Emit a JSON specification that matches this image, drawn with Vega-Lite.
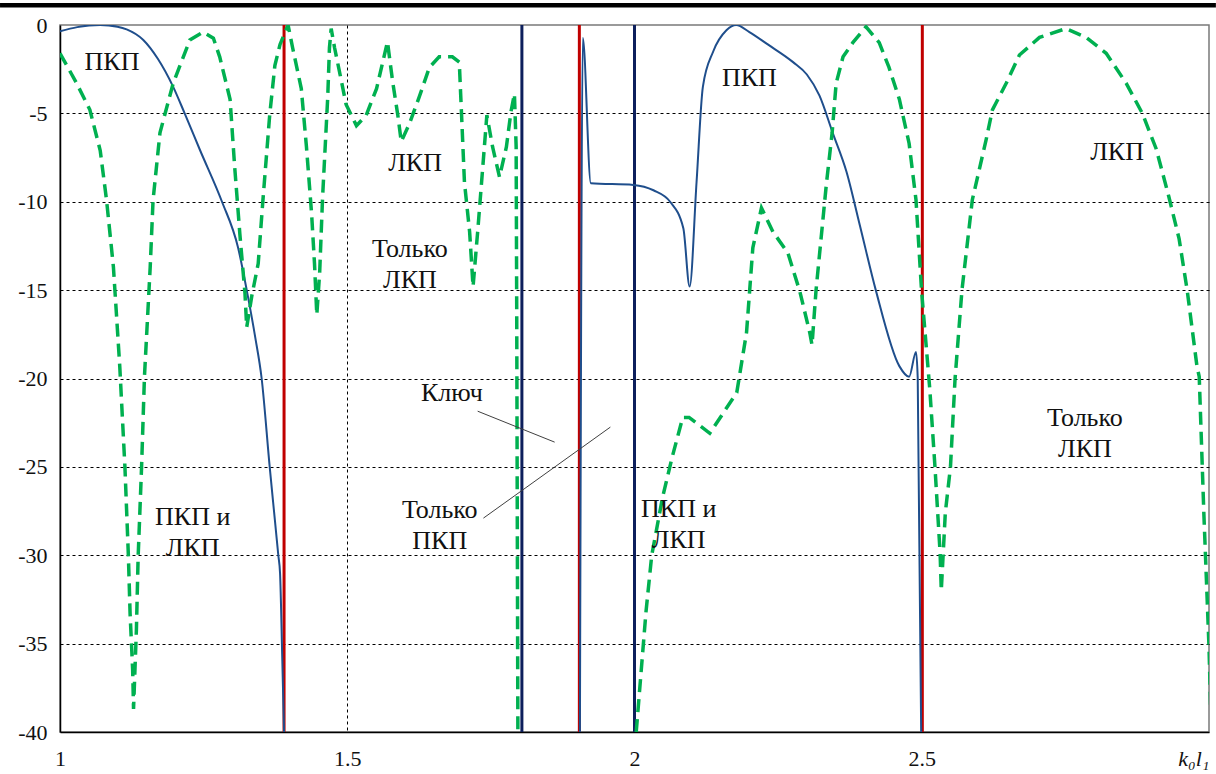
{
  "$schema": "https://vega.github.io/schema/vega-lite/v6.json",
  "autosize": "none",
  "width": 1149,
  "height": 707,
  "padding": {"left": 60, "top": 25, "right": 7, "bottom": 42},
  "background": "white",
  "config": {
    "view": {"stroke": "#7a7a7a", "strokeWidth": 1.5},
    "font": "Liberation Serif",
    "axis": {"labelFont": "Liberation Serif"},
    "text": {"font": "Liberation Serif"}
  },
  "datasets": {
    "vlines": [
      {"x": 1.39, "kind": "red"},
      {"x": 1.804, "kind": "navy"},
      {"x": 1.904, "kind": "red"},
      {"x": 2.0, "kind": "navy"},
      {"x": 2.501, "kind": "red"}
    ],
    "blue": [
      {"seg": 1, "x": 1.0, "y": -0.35},
      {"seg": 1, "x": 1.03, "y": -0.12},
      {"seg": 1, "x": 1.07, "y": 0},
      {"seg": 1, "x": 1.1, "y": -0.1},
      {"seg": 1, "x": 1.116, "y": -0.25},
      {"seg": 1, "x": 1.145, "y": -0.85},
      {"seg": 1, "x": 1.17, "y": -1.9},
      {"seg": 1, "x": 1.197, "y": -3.5},
      {"seg": 1, "x": 1.217, "y": -5},
      {"seg": 1, "x": 1.244, "y": -7.1},
      {"seg": 1, "x": 1.282, "y": -10},
      {"seg": 1, "x": 1.31, "y": -12.6},
      {"seg": 1, "x": 1.325, "y": -15},
      {"seg": 1, "x": 1.34, "y": -17.7},
      {"seg": 1, "x": 1.351, "y": -20},
      {"seg": 1, "x": 1.365, "y": -25},
      {"seg": 1, "x": 1.374, "y": -28},
      {"seg": 1, "x": 1.38, "y": -30},
      {"seg": 1, "x": 1.383, "y": -31},
      {"seg": 1, "x": 1.387, "y": -36},
      {"seg": 1, "x": 1.39, "y": -40},
      {"seg": 2, "x": 1.905, "y": -40},
      {"seg": 2, "x": 1.91, "y": -0.73},
      {"seg": 2, "x": 1.924, "y": -8.95},
      {"seg": 2, "x": 1.998, "y": -9.05},
      {"seg": 2, "x": 2.033, "y": -9.35},
      {"seg": 2, "x": 2.062, "y": -10},
      {"seg": 2, "x": 2.085, "y": -11.5},
      {"seg": 2, "x": 2.096, "y": -14.8},
      {"seg": 2, "x": 2.108, "y": -8.9},
      {"seg": 2, "x": 2.119, "y": -3.5},
      {"seg": 2, "x": 2.137, "y": -1.5},
      {"seg": 2, "x": 2.16, "y": -0.3},
      {"seg": 2, "x": 2.177, "y": 0},
      {"seg": 2, "x": 2.2, "y": -0.4},
      {"seg": 2, "x": 2.232, "y": -1.1},
      {"seg": 2, "x": 2.276, "y": -2.1},
      {"seg": 2, "x": 2.3, "y": -2.8},
      {"seg": 2, "x": 2.322, "y": -4},
      {"seg": 2, "x": 2.345, "y": -6.1},
      {"seg": 2, "x": 2.369, "y": -8.3},
      {"seg": 2, "x": 2.392, "y": -11.3},
      {"seg": 2, "x": 2.42, "y": -15},
      {"seg": 2, "x": 2.461, "y": -19.3},
      {"seg": 2, "x": 2.478, "y": -19.9},
      {"seg": 2, "x": 2.49, "y": -18.5},
      {"seg": 2, "x": 2.493, "y": -20},
      {"seg": 2, "x": 2.499, "y": -40}
    ],
    "green": [
      {"seg": 1, "x": 1.0, "y": -1.6},
      {"seg": 1, "x": 1.029, "y": -3.3},
      {"seg": 1, "x": 1.052, "y": -4.8},
      {"seg": 1, "x": 1.07, "y": -7.1},
      {"seg": 1, "x": 1.081, "y": -9.9},
      {"seg": 1, "x": 1.093, "y": -13.7},
      {"seg": 1, "x": 1.104, "y": -19.3},
      {"seg": 1, "x": 1.113, "y": -25},
      {"seg": 1, "x": 1.119, "y": -30},
      {"seg": 1, "x": 1.122, "y": -33.3},
      {"seg": 1, "x": 1.1265, "y": -36.5},
      {"seg": 1, "x": 1.128, "y": -38.7},
      {"seg": 1, "x": 1.133, "y": -34.2},
      {"seg": 1, "x": 1.136, "y": -30.1},
      {"seg": 1, "x": 1.142, "y": -25},
      {"seg": 1, "x": 1.147, "y": -19.9},
      {"seg": 1, "x": 1.157, "y": -13.7},
      {"seg": 1, "x": 1.162, "y": -9.9},
      {"seg": 1, "x": 1.174, "y": -6.1},
      {"seg": 1, "x": 1.197, "y": -3.3},
      {"seg": 1, "x": 1.226, "y": -0.85},
      {"seg": 1, "x": 1.249, "y": -0.4},
      {"seg": 1, "x": 1.267, "y": -0.75},
      {"seg": 1, "x": 1.278, "y": -1.8},
      {"seg": 1, "x": 1.296, "y": -4.2},
      {"seg": 1, "x": 1.304, "y": -8},
      {"seg": 1, "x": 1.313, "y": -11.8},
      {"seg": 1, "x": 1.322, "y": -15.2},
      {"seg": 1, "x": 1.325, "y": -17.1},
      {"seg": 1, "x": 1.334, "y": -15.3},
      {"seg": 1, "x": 1.345, "y": -13.5},
      {"seg": 1, "x": 1.353, "y": -10},
      {"seg": 1, "x": 1.365, "y": -5.1},
      {"seg": 1, "x": 1.374, "y": -2.3},
      {"seg": 1, "x": 1.383, "y": -1.1},
      {"seg": 1, "x": 1.397, "y": 0},
      {"seg": 1, "x": 1.405, "y": -1.3},
      {"seg": 1, "x": 1.42, "y": -3.6},
      {"seg": 1, "x": 1.429, "y": -6.9},
      {"seg": 1, "x": 1.438, "y": -10.7},
      {"seg": 1, "x": 1.443, "y": -13.5},
      {"seg": 1, "x": 1.447, "y": -16.4},
      {"seg": 1, "x": 1.452, "y": -14},
      {"seg": 1, "x": 1.457, "y": -9.8},
      {"seg": 1, "x": 1.466, "y": -4.1},
      {"seg": 1, "x": 1.469, "y": -1.3},
      {"seg": 1, "x": 1.472, "y": -0.2},
      {"seg": 1, "x": 1.478, "y": -1.3},
      {"seg": 1, "x": 1.49, "y": -3.2},
      {"seg": 1, "x": 1.498, "y": -4.5},
      {"seg": 1, "x": 1.516, "y": -5.7},
      {"seg": 1, "x": 1.533, "y": -5.1},
      {"seg": 1, "x": 1.551, "y": -3.6},
      {"seg": 1, "x": 1.57, "y": -0.95},
      {"seg": 1, "x": 1.579, "y": -3.2},
      {"seg": 1, "x": 1.588, "y": -5.1},
      {"seg": 1, "x": 1.594, "y": -6.6},
      {"seg": 1, "x": 1.608, "y": -5.6},
      {"seg": 1, "x": 1.625, "y": -4.1},
      {"seg": 1, "x": 1.643, "y": -2.4},
      {"seg": 1, "x": 1.66, "y": -1.8},
      {"seg": 1, "x": 1.683, "y": -1.8},
      {"seg": 1, "x": 1.695, "y": -2.1},
      {"seg": 1, "x": 1.699, "y": -5.1},
      {"seg": 1, "x": 1.704, "y": -8.9},
      {"seg": 1, "x": 1.713, "y": -11.7},
      {"seg": 1, "x": 1.719, "y": -14.8},
      {"seg": 1, "x": 1.727, "y": -11.7},
      {"seg": 1, "x": 1.736, "y": -8},
      {"seg": 1, "x": 1.743, "y": -5.1},
      {"seg": 1, "x": 1.753, "y": -6.9},
      {"seg": 1, "x": 1.765, "y": -8.6},
      {"seg": 1, "x": 1.777, "y": -6.9},
      {"seg": 1, "x": 1.785, "y": -4.9},
      {"seg": 1, "x": 1.791, "y": -3.9},
      {"seg": 1, "x": 1.794, "y": -6.9},
      {"seg": 1, "x": 1.795, "y": -16.4},
      {"seg": 1, "x": 1.797, "y": -40},
      {"seg": 2, "x": 2.003, "y": -40},
      {"seg": 2, "x": 2.02, "y": -33.2},
      {"seg": 2, "x": 2.03, "y": -30},
      {"seg": 2, "x": 2.049, "y": -26.7},
      {"seg": 2, "x": 2.066, "y": -24.4},
      {"seg": 2, "x": 2.084, "y": -22.2},
      {"seg": 2, "x": 2.095, "y": -22.2},
      {"seg": 2, "x": 2.131, "y": -23.1},
      {"seg": 2, "x": 2.178, "y": -20.8},
      {"seg": 2, "x": 2.195, "y": -17.4},
      {"seg": 2, "x": 2.206, "y": -12.6},
      {"seg": 2, "x": 2.221, "y": -10.35},
      {"seg": 2, "x": 2.241, "y": -11.7},
      {"seg": 2, "x": 2.267, "y": -12.9},
      {"seg": 2, "x": 2.288, "y": -15.1},
      {"seg": 2, "x": 2.305, "y": -17.4},
      {"seg": 2, "x": 2.309, "y": -18.1},
      {"seg": 2, "x": 2.316, "y": -15},
      {"seg": 2, "x": 2.334, "y": -9},
      {"seg": 2, "x": 2.344, "y": -6.1},
      {"seg": 2, "x": 2.351, "y": -3.3},
      {"seg": 2, "x": 2.363, "y": -1.8},
      {"seg": 2, "x": 2.38, "y": -1.0},
      {"seg": 2, "x": 2.403, "y": -0.1},
      {"seg": 2, "x": 2.426, "y": -1.0},
      {"seg": 2, "x": 2.443, "y": -2.4},
      {"seg": 2, "x": 2.461, "y": -4.2},
      {"seg": 2, "x": 2.478, "y": -6.7},
      {"seg": 2, "x": 2.49, "y": -9.9},
      {"seg": 2, "x": 2.4996, "y": -15},
      {"seg": 2, "x": 2.514, "y": -20.6},
      {"seg": 2, "x": 2.523, "y": -25},
      {"seg": 2, "x": 2.532, "y": -29.9},
      {"seg": 2, "x": 2.534, "y": -32},
      {"seg": 2, "x": 2.541, "y": -27.6},
      {"seg": 2, "x": 2.55, "y": -25},
      {"seg": 2, "x": 2.558, "y": -20},
      {"seg": 2, "x": 2.57, "y": -15},
      {"seg": 2, "x": 2.588, "y": -9.9},
      {"seg": 2, "x": 2.612, "y": -6.5},
      {"seg": 2, "x": 2.623, "y": -4.8},
      {"seg": 2, "x": 2.647, "y": -3.3},
      {"seg": 2, "x": 2.67, "y": -1.7},
      {"seg": 2, "x": 2.705, "y": -0.7},
      {"seg": 2, "x": 2.751, "y": -0.2},
      {"seg": 2, "x": 2.786, "y": -0.7},
      {"seg": 2, "x": 2.821, "y": -1.6},
      {"seg": 2, "x": 2.856, "y": -3.3},
      {"seg": 2, "x": 2.884, "y": -5},
      {"seg": 2, "x": 2.908, "y": -7},
      {"seg": 2, "x": 2.93, "y": -9.7},
      {"seg": 2, "x": 2.948, "y": -12.1},
      {"seg": 2, "x": 2.962, "y": -15},
      {"seg": 2, "x": 2.979, "y": -19.3},
      {"seg": 2, "x": 2.983, "y": -19.9},
      {"seg": 2, "x": 2.991, "y": -27.6},
      {"seg": 2, "x": 3.0, "y": -35.2},
      {"seg": 2, "x": 3.004, "y": -40}
    ],
    "leaders": [
      {"x": 1.727, "y": -21.85, "x2": 1.861, "y2": -23.6},
      {"x": 1.737, "y": -27.9, "x2": 1.958, "y2": -22.75}
    ],
    "labels": [
      {"x": 1.0905, "y": -2.09, "label": "ПКП"},
      {"x": 1.618, "y": -7.8, "label": "ЛКП"},
      {"x": 1.609, "y": -12.67, "label": "Только\nЛКП"},
      {"x": 2.2, "y": -3.0, "label": "ПКП"},
      {"x": 2.84, "y": -7.2, "label": "ЛКП"},
      {"x": 2.784, "y": -22.23, "label": "Только\nЛКП"},
      {"x": 1.231, "y": -27.84, "label": "ПКП и\nЛКП"},
      {"x": 2.077, "y": -27.38, "label": "ПКП и\nЛКП"},
      {"x": 1.682, "y": -20.8, "label": "Ключ"},
      {"x": 1.661, "y": -27.44, "label": "Только\nПКП"}
    ],
    "topbar": [
      {"x": 0.8956, "x2": 3.012, "y": 1.12}
    ]
  },
  "encoding": {
    "x": {
      "field": "x",
      "type": "quantitative",
      "scale": {"domain": [1, 3], "nice": false, "zero": false},
      "axis": {
        "title": null,
        "values": [1, 1.5, 2, 2.5, 3],
        "labelExpr": "datum.value == 3 ? 'k₀l₁' : toString(datum.value)",
        "labelFont": "Liberation Serif",
        "labelFontSize": 22,
        "labelFontStyle": {"condition": {"test": "datum.value == 3", "value": "italic"}, "value": "normal"},
        "labelAlign": {"condition": {"test": "datum.value == 3", "value": "right"}, "value": "center"},
        "labelColor": "#111111",
        "labelPadding": 16,
        "labelFlush": false,
        "labelOverlap": false,
        "ticks": false,
        "domain": true,
        "domainColor": "#000000",
        "domainWidth": 1.5,
        "grid": true,
        "gridColor": "#000000",
        "gridDash": [3, 3],
        "gridWidth": 1,
        "gridOpacity": {"condition": {"test": "datum.value == 1 || datum.value == 3", "value": 0}, "value": 1}
      }
    },
    "y": {
      "field": "y",
      "type": "quantitative",
      "scale": {"domain": [-40, 0], "nice": false, "zero": false},
      "axis": {
        "title": null,
        "values": [-40, -35, -30, -25, -20, -15, -10, -5, 0],
        "labelExpr": "toString(datum.value)",
        "labelFont": "Liberation Serif",
        "labelFontSize": 22,
        "labelColor": "#111111",
        "labelPadding": 13,
        "labelFlush": false,
        "labelOverlap": false,
        "ticks": false,
        "domain": true,
        "domainColor": "#000000",
        "domainWidth": 1.5,
        "grid": true,
        "gridColor": "#000000",
        "gridDash": [3, 3],
        "gridWidth": 1,
        "gridOpacity": {"condition": {"test": "datum.value == 0 || datum.value == -40", "value": 0}, "value": 1}
      }
    }
  },
  "layer": [
    {
      "data": {"name": "vlines"},
      "mark": {"type": "rule", "strokeWidth": 3},
      "encoding": {
        "x": {"field": "x", "type": "quantitative"},
        "y": null,
        "color": {
          "field": "kind",
          "type": "nominal",
          "scale": {"domain": ["red", "navy"], "range": ["#C00000", "#0D1F5C"]},
          "legend": null
        }
      }
    },
    {
      "data": {"name": "blue"},
      "mark": {"type": "line", "color": "#1F4E8C", "strokeWidth": 2, "clip": true, "interpolate": "monotone"},
      "encoding": {
        "detail": {"field": "seg", "type": "nominal"},
        "order": {"field": "x", "type": "quantitative"}
      }
    },
    {
      "data": {"name": "green"},
      "mark": {"type": "line", "color": "#00B050", "strokeWidth": 3.5, "strokeDash": [13, 7], "clip": true},
      "encoding": {
        "detail": {"field": "seg", "type": "nominal"},
        "order": {"field": "x", "type": "quantitative"}
      }
    },
    {
      "data": {"name": "leaders"},
      "mark": {"type": "rule", "color": "#404040", "strokeWidth": 1},
      "encoding": {
        "x2": {"field": "x2"},
        "y2": {"field": "y2"}
      }
    },
    {
      "data": {"name": "labels"},
      "mark": {"type": "text", "font": "Liberation Serif", "fontSize": 26, "lineHeight": 31, "align": "center", "baseline": "middle", "color": "#111111", "lineBreak": "\n"},
      "encoding": {
        "text": {"field": "label", "type": "nominal"}
      }
    },
    {
      "data": {"name": "topbar"},
      "mark": {"type": "rule", "color": "#000000", "strokeWidth": 4.5, "clip": false},
      "encoding": {
        "x2": {"field": "x2"}
      }
    }
  ]
}
